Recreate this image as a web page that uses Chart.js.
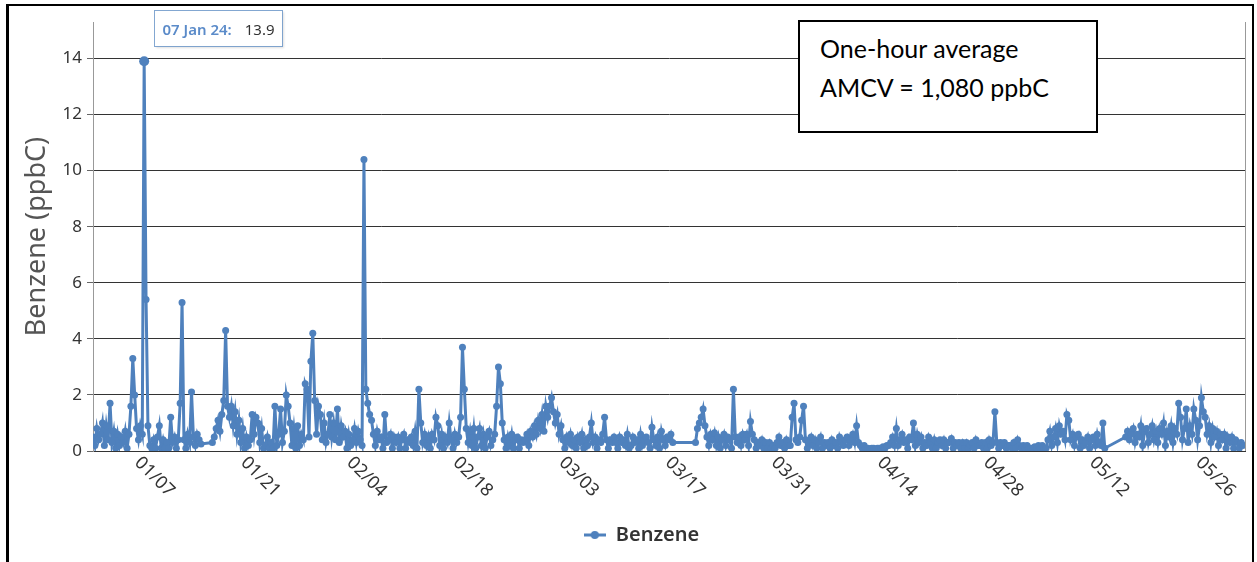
<!DOCTYPE html>
<html>
<head>
<meta charset="utf-8">
<script src="https://cdn.jsdelivr.net/npm/chart.js@4"></script>
<style>
  html, body { margin: 0; padding: 0; background: #fff; }
  #wrap { position: relative; width: 1257px; height: 562px; overflow: hidden; }
  #chart { position: absolute; left: 0; top: 0; }
  #frame {
    position: absolute; left: 6px; top: 4px; width: 1248px; height: 620px;
    border-left: 3px solid #000; border-top: 2px solid #000; border-right: 2px solid #000;
    box-sizing: border-box; pointer-events: none;
  }
  #note {
    position: absolute; left: 798px; top: 20px; width: 300px; height: 113px;
    border: 2px solid #000; background: #fff; box-sizing: border-box;
    padding: 7px 0 0 20px; font: 25px/39px Lato, sans-serif; color: #000;
  }
</style>
</head>
<body>
<div id="wrap">
  <canvas id="chart" width="1257" height="562"></canvas>
  <div id="frame"></div>
  <div id="note">One-hour average<br>AMCV = 1,080 ppbC</div>
</div>
<script>
// x ticks every two weeks, in days since 1 Jan 2024
const tickDays = [6, 20, 34, 48, 62, 76, 90, 104, 118, 132, 146];
const tickLabels = ['01/07', '01/21', '02/04', '02/18', '03/03', '03/17', '03/31', '04/14', '04/28', '05/12', '05/26'];
const yTicks = [0, 2, 4, 6, 8, 10, 12, 14];
const monthNames = ['Jan', 'Feb', 'Mar', 'Apr', 'May', 'Jun'];
const monthStart = [0, 31, 60, 91, 121];

// benzene (ppbC), 4 readings a day (00, 06, 12, 18h); null = no data
const jan = [
  0.5, 0.2, 0.8, 0.4,  0.6, 1.0, 0.2, 0.9,  0.4, 1.7, 0.3, 0.7,  0.1, 0.6, 0.2, 0.5,
  0.3, 0.7, 0.1, 0.6,  1.6, 3.3, 2.0, 0.8,  0.4, 0.9, 0.6, 13.9, 5.4, 0.9, 0.2, 0.1,
  0.4, 0.1, 0.5, 0.9,  0.1, 0.4, 0.1, 0.3,  0.1, 1.2, 0.3, 0.5,  0.1, 0.4, 1.7, 5.3,
  0.4, 0.1, 0.6, 0.3,  2.1, 0.5, 0.2, 0.6,  0.4, 0.25, null, null,  null, null, null, 0.3,
  0.5, 0.8, 1.1, 0.7,  1.3, 1.8, 4.3, 1.6,  1.2, 1.6, 0.9, 1.4,  0.6, 1.1, 0.3, 0.8,
  0.1, 0.5, 0.2, 0.4,  1.3, 0.6, 1.2, 1.0,  0.3, 0.8, 0.1, 0.2,  0.5, 0.1, 0.3, 0.1,
  1.6, 0.2, 0.6, 1.5,  0.3, 0.7, 2.0, 1.6,  1.0, 0.2, 0.8, 0.1,  0.9, 0.2, 0.6, 0.4,
  2.4, 2.2, 0.5, 3.2,  4.2, 1.8, 0.6, 1.6,  1.3, 0.4, 1.0, 0.3
];
const feb = [
  0.6, 1.3, 0.5, 1.0,  0.4, 1.5, 0.3, 0.9,  0.5, 0.7, 0.1, 0.6,  0.2, 0.4, 0.8, 0.3,
  0.7, 0.4, 0.2, 10.4, 2.2, 1.7, 1.3, 1.1,  0.6, 0.2, 0.7, 0.4,  0.5, 0.1, 1.3, 0.3,
  0.4, 0.6, 0.1, 0.5,  0.3, 0.5, 0.1, 0.4,  0.6, 0.1, 0.4, 0.3,  0.5, 0.2, 0.7, 0.1,
  2.2, 1.0, 0.3, 0.6,  0.2, 0.5, 0.1, 0.6,  0.4, 1.2, 0.9, 0.2,  0.6, 0.1, 0.5, 0.3,
  1.0, 0.4, 0.1, 0.6,  0.3, 0.5, 1.2, 3.7,  2.2, 0.8, 0.3, 0.7,  0.2, 0.8, 0.1, 0.5,
  0.8, 0.2, 0.6, 0.1,  0.5, 0.7, 0.2, 0.4,  0.6, 1.6, 3.0, 2.4,  1.0, 0.4, 0.1, 0.5,
  0.2, 0.6, 0.1, 0.4,  0.5, 0.1, 0.4, 0.3,  0.4, 0.6, 0.2, 0.7,  0.5, 0.9, 0.6, 1.1,
  0.8, 1.3, 0.7, 1.6
];
const mar = [
  1.2, 1.6, 1.9, 1.4,  1.0, 1.3, 0.6, 0.9,  0.4, 0.1, 0.5, 0.3,  0.6, 0.2, 0.4, 0.1,
  0.5, 0.3, 0.6, 0.1,  0.4, 0.2, 0.5, 1.0,  0.3, 0.5, 0.1, 0.4,  0.3, 0.6, 1.2, 0.4,
  0.1, 0.4, 0.3, 0.5,  0.3, 0.1, 0.5, 0.3,  0.4, 0.2, 0.6, 0.1,  0.2, 0.5, 0.3, 0.4,
  0.1, 0.6, 0.2, 0.4,  0.5, 0.3, 0.1, 0.85, 0.4, 0.2, 0.5, 0.1,  0.7, 0.4, 0.2, 0.5,
  0.4, 0.6, 0.3, null,  null, null, null, null,  null, null, null, null,  null, null, 0.3, 0.8,
  1.0, 1.2, 1.5, 0.9,  0.5, 0.2, 0.6, 0.4,  0.65, 0.2, 0.5, 0.1, 0.4, 0.6, 0.2, 0.5,
  0.4, 0.1, 2.2, 0.5,  0.3, 0.5, 0.2, 0.6,  0.4, 0.6, 0.2, 1.05, 0.6, 0.4, 0.1, 0.3,
  0.2, 0.4, 0.1, 0.3,  0.1, 0.3, 0.1, 0.2,  0.1, 0.3, 0.5, 0.2
];
const apr = [
  0.3, 0.1, 0.4, 0.2,  0.2, 1.2, 1.7, 0.4,  0.3, 0.5, 1.1, 1.6,  0.4, 0.1, 0.3, 0.5,
  0.2, 0.4, 0.1, 0.3,  0.5, 0.1, 0.3, 0.2,  0.3, 0.1, 0.4, 0.2,  0.3, 0.1, 0.5, 0.3,
  0.2, 0.4, 0.5, 0.2,  0.4, 0.6, 0.3, 0.9,  0.3, 0.2, 0.1, 0.2,  0.1, 0.1, 0.05, 0.1,
  0.1, 0.05, 0.1, 0.1, 0.1, 0.15, 0.1, 0.2, 0.2, 0.3, 0.5, 0.2,  0.8, 0.2, 0.4, 0.6,
  0.3, 0.4, 0.1, 0.5,  0.4, 1.0, 0.2, 0.6,  0.3, 0.5, 0.1, 0.3,  0.2, 0.5, 0.3, 0.1,
  0.4, 0.1, 0.3, 0.4,  0.2, 0.4, 0.1, 0.3,  0.3, 0.45, 0.1, 0.3, 0.2, 0.3, 0.1, 0.3,
  0.1, 0.3, 0.1, 0.2,  0.3, 0.1, 0.4, 0.2,  0.2, 0.3, 0.1, 0.3,  0.1, 0.4, 0.2, 0.3,
  1.4, 0.3, 0.1, 0.3,  0.2, 0.3, 0.1, 0.2
];
const may = [
  0.2, 0.1, 0.3, 0.1,  0.4, 0.2, 0.1, 0.2,  0.1, 0.2, 0.1, 0.1,  0.1, 0.15, 0.1, 0.2,
  0.1, 0.2, 0.1, 0.1,  0.4, 0.7, 0.2, 0.5,  0.8, 0.3, 0.9, 0.6,  0.7, 0.4, 1.3, 1.1,
  0.4, 0.6, 0.2, 0.5,  0.6, 0.1, 0.4, 0.2,  0.3, 0.5, 0.1, 0.4,  0.5, 0.2, 0.6, 0.3,
  0.2, 1.0, 0.1, null,  null, null, null, null,  null, null, null, null,  null, 0.5, 0.7, 0.4,
  0.6, 0.8, 0.3, 0.6,  0.5, 0.9, 0.2, 0.7,  0.8, 0.3, 0.6, 0.9,  0.4, 0.7, 0.3, 0.8,
  0.6, 1.0, 0.2, 0.7,  0.5, 0.9, 0.3, 0.8,  0.6, 1.7, 1.2, 0.4,  0.8, 1.5, 0.3, 0.9,
  0.6, 1.5, 1.1, 0.4,  0.9, 1.9, 1.4, 1.2,  0.6, 0.9, 0.3, 0.8,  0.5, 0.7, 0.2, 0.6,
  0.4, 0.6, 0.1, 0.5,  0.3, 0.5, 0.1, 0.4,  0.3, 0.1, 0.3, 0.2
];

const blue = '#4f81bd';
const font = '"Noto Sans", "Open Sans", sans-serif';

const points = [];
[jan, feb, mar, apr, may].forEach((vals, m) => {
  vals.forEach((v, i) => points.push({ x: monthStart[m] + i / 4, y: v }));
});
const peak = Math.max(...points.filter(p => p.y !== null).map(p => p.y));
const peakIndex = points.findIndex(p => p.y === peak);

function fmtDate(day) {
  const d = new Date(Date.UTC(2024, 0, 1) + day * 864e5);
  return String(d.getUTCDate()).padStart(2, '0') + ' ' + monthNames[d.getUTCMonth()] + ' 24';
}

// legend symbol: short line with a dot
const legendIcon = document.createElement('canvas');
legendIcon.width = 22; legendIcon.height = 10;
(() => {
  const c = legendIcon.getContext('2d');
  c.strokeStyle = blue; c.fillStyle = blue; c.lineWidth = 3;
  c.beginPath(); c.moveTo(0, 5); c.lineTo(22, 5); c.stroke();
  c.beginPath(); c.arc(11, 5, 4, 0, Math.PI * 2); c.fill();
})();

const extras = {
  id: 'extras',
  afterLayout(chart) {
    // nudge the legend to the right, under the middle of the plot
    chart.legend.left += 19;
    chart.legend.right += 19;
  },
  afterDraw(chart) {
    const { ctx, chartArea: area, scales: { x } } = chart;
    ctx.save();
    // right edge of plot
    ctx.strokeStyle = '#999';
    ctx.lineWidth = 1;
    ctx.beginPath();
    ctx.moveTo(area.right + 0.5, area.top);
    ctx.lineTo(area.right + 0.5, area.bottom);
    ctx.stroke();

    // date labels, slanted down to the right
    ctx.font = '18px ' + font;
    ctx.fillStyle = '#333';
    ctx.textAlign = 'left';
    ctx.textBaseline = 'middle';
    tickDays.forEach((d, i) => {
      ctx.save();
      ctx.translate(x.getPixelForValue(d) - 1, x.top + 9);
      ctx.rotate(Math.PI / 4);
      ctx.fillText(tickLabels[i], 0, 0);
      ctx.restore();
    });

    // tooltip on the highest reading
    const el = chart.getDatasetMeta(0).data[peakIndex];
    const p = points[peakIndex];
    const bx = Math.round(el.x) + 10.5, by = 10.5, bh = 36;
    ctx.font = '600 15px ' + font;
    const head = fmtDate(p.x) + ':';
    const hw = ctx.measureText(head).width;
    ctx.font = '15px ' + font;
    const val = String(p.y);
    const vw = ctx.measureText(val).width;
    const bw = Math.round(8 + hw + 13 + vw + 8);
    ctx.shadowColor = 'rgba(0,0,0,0.12)';
    ctx.shadowOffsetX = 1; ctx.shadowOffsetY = 1; ctx.shadowBlur = 2;
    ctx.fillStyle = '#fff';
    ctx.fillRect(bx, by, bw, bh);
    ctx.shadowColor = 'transparent';
    ctx.strokeStyle = 'rgba(79,129,189,0.7)';
    ctx.strokeRect(bx, by, bw, bh);
    ctx.textBaseline = 'alphabetic';
    ctx.font = '600 15px ' + font;
    ctx.fillStyle = '#5b8bc9';
    ctx.fillText(head, bx + 8, by + 24);
    ctx.font = '15px ' + font;
    ctx.fillStyle = '#333';
    ctx.fillText(val, bx + 8 + hw + 13, by + 24);
    ctx.restore();
  }
};

new Chart(document.getElementById('chart'), {
  type: 'line',
  data: {
    datasets: [{
      label: 'Benzene',
      data: points,
      borderColor: blue,
      backgroundColor: blue,
      borderWidth: 3,
      pointRadius: c => (c.raw && c.raw.y === peak ? 5 : 3.5),
      pointBorderWidth: 0,
      spanGaps: true,
      tension: 0
    }]
  },
  options: {
    responsive: false,
    animation: false,
    events: [],
    layout: { padding: { top: 22, right: 12, bottom: 7, left: 0 } },
    scales: {
      x: {
        type: 'linear',
        min: 0,
        max: 152,
        afterBuildTicks: s => { s.ticks = tickDays.map(v => ({ value: v })); },
        afterFit: s => { s.height = 64; },
        ticks: { display: false },
        grid: { display: false },
        border: { display: true, color: '#333', width: 1 }
      },
      y: {
        min: 0,
        max: 15.3,
        afterBuildTicks: s => { s.ticks = yTicks.map(v => ({ value: v })); },
        afterFit: s => { s.width = 93; },
        ticks: { color: '#333', padding: 5, font: { family: font, size: 17 } },
        grid: { color: '#333', tickLength: 6, tickColor: '#666' },
        border: { display: true, color: '#999' },
        title: {
          display: true,
          text: 'Benzene (ppbC)',
          color: '#555',
          font: { family: font, size: 27 },
          padding: { top: 21, bottom: 0 }
        }
      }
    },
    plugins: {
      tooltip: { enabled: false },
      legend: {
        position: 'bottom',
        labels: {
          usePointStyle: true,
          pointStyle: legendIcon,
          pointStyleWidth: 22,
          boxHeight: 10,
          padding: 10,
          color: '#333',
          font: { family: font, size: 20, weight: '600' }
        }
      }
    }
  },
  plugins: [extras]
});
</script>
</body>
</html>
